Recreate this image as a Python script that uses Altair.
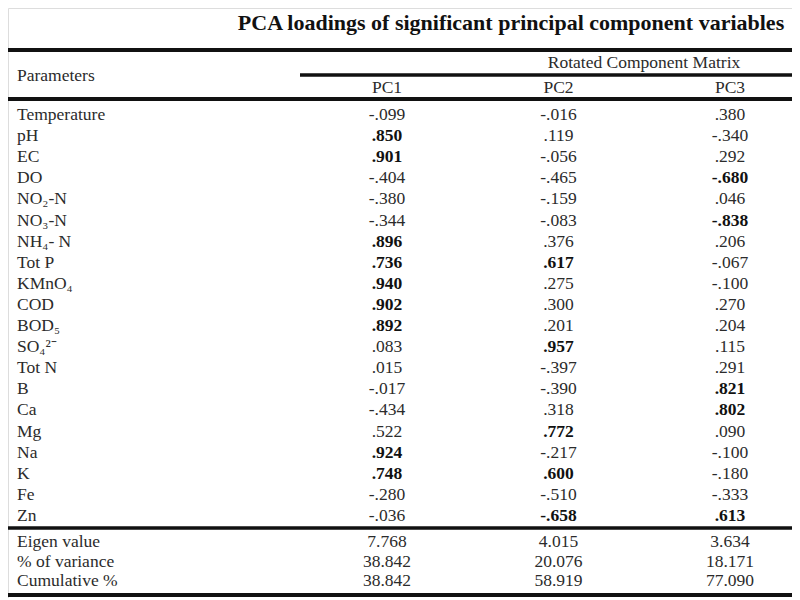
import altair as alt
import pandas as pd

title = "PCA loadings of significant principal component variables"
components = ["PC1", "PC2", "PC3"]
params = ["Temperature", "pH", "EC", "DO", "NO₂-N", "NO₃-N", "NH₄- N", "Tot P",
          "KMnO₄", "COD", "BOD₅", "SO₄²⁻", "Tot N", "B", "Ca", "Mg", "Na", "K",
          "Fe", "Zn"]
pc1 = [-0.099, 0.850, 0.901, -0.404, -0.380, -0.344, 0.896, 0.736, 0.940, 0.902,
       0.892, 0.083, 0.015, -0.017, -0.434, 0.522, 0.924, 0.748, -0.280, -0.036]
pc2 = [-0.016, 0.119, -0.056, -0.465, -0.159, -0.083, 0.376, 0.617, 0.275, 0.300,
       0.201, 0.957, -0.397, -0.390, 0.318, 0.772, -0.217, 0.600, -0.510, -0.658]
pc3 = [0.380, -0.340, 0.292, -0.680, 0.046, -0.838, 0.206, -0.067, -0.100, 0.270,
       0.204, 0.115, 0.291, 0.821, 0.802, 0.090, -0.100, -0.180, -0.333, 0.613]
summary_labels = ["Eigen value", "% of variance", "Cumulative %"]
eigen = [7.768, 4.015, 3.634]
variance = [38.842, 20.076, 18.171]
cumulative = [38.842, 58.919, 77.090]

FONT = "Liberation Serif"
FS = 17.5
TXT = "#2b2b2b"
LINE = "#111111"
W, H = 784, 590


def fmt_loading(v):
    s = f"{v:.3f}"
    if s.startswith("-0."):
        return "-" + s[2:]
    if s.startswith("0."):
        return s[1:]
    return s


rows = []
for c, series in enumerate([pc1, pc2, pc3], start=1):
    for r, v in enumerate(series):
        rows.append({"row": r, "col": c, "label": fmt_loading(v), "bold": abs(v) >= 0.6})
vals = pd.DataFrame(rows)
param_df = pd.DataFrame({"row": list(range(len(params))), "param": params})

srows = []
for sr, series in enumerate([eigen, variance, cumulative]):
    for c, v in enumerate(series, start=1):
        srows.append({"srow": sr, "col": c, "label": f"{v:.3f}"})
summ = pd.DataFrame(srows)
summ_lab = pd.DataFrame({"srow": [0, 1, 2], "label": summary_labels})
head_df = pd.DataFrame({"col": [1, 2, 3], "label": components})

xs = alt.Scale(domain=[1, 3], range=[379, 722])
ys = alt.Scale(domain=[0, 19], range=[107, 508], zero=False, nice=False)
ss = alt.Scale(domain=[0, 2], range=[534, 573], zero=False, nice=False)

normal_vals = alt.Chart(vals).transform_filter("!datum.bold").mark_text(
    font=FONT, fontSize=FS, color=TXT, align="center", baseline="middle"
).encode(x=alt.X("col:Q", scale=xs, axis=None),
         y=alt.Y("row:Q", scale=ys, axis=None), text="label:N")
bold_vals = alt.Chart(vals).transform_filter("datum.bold").mark_text(
    font=FONT, fontSize=FS, fontWeight="bold", color="#111", align="center", baseline="middle"
).encode(x=alt.X("col:Q", scale=xs, axis=None),
         y=alt.Y("row:Q", scale=ys, axis=None), text="label:N")
param_txt = alt.Chart(param_df).mark_text(
    font=FONT, fontSize=FS, color=TXT, align="left", baseline="middle"
).encode(x=alt.value(9), y=alt.Y("row:Q", scale=ys, axis=None), text="param:N")

summ_vals = alt.Chart(summ).mark_text(
    font=FONT, fontSize=FS, color=TXT, align="center", baseline="middle"
).encode(x=alt.X("col:Q", scale=xs, axis=None),
         y=alt.Y("srow:Q", scale=ss, axis=None), text="label:N")
summ_txt = alt.Chart(summ_lab).mark_text(
    font=FONT, fontSize=FS, color=TXT, align="left", baseline="middle"
).encode(x=alt.value(9), y=alt.Y("srow:Q", scale=ss, axis=None), text="label:N")

head_pc = alt.Chart(head_df).mark_text(
    font=FONT, fontSize=FS, color=TXT, align="center", baseline="middle"
).encode(x=alt.X("col:Q", scale=xs, axis=None), y=alt.value(80), text="label:N")
head_param = alt.Chart(pd.DataFrame({"t": ["Parameters"]})).mark_text(
    font=FONT, fontSize=FS, color=TXT, align="left", baseline="middle"
).encode(x=alt.value(9), y=alt.value(68), text="t:N")
head_rot = alt.Chart(pd.DataFrame({"t": ["Rotated Component Matrix"]})).mark_text(
    font=FONT, fontSize=FS, color=TXT, align="center", baseline="middle"
).encode(x=alt.value(636), y=alt.value(55), text="t:N")
title_txt = alt.Chart(pd.DataFrame({"t": [title]})).mark_text(
    font=FONT, fontSize=22, fontWeight="bold", color="#111", align="center",
    baseline="alphabetic"
).encode(x=alt.value(503), y=alt.value(22), text="t:N")


def hrule(y, x1, x2, sw):
    return alt.Chart(pd.DataFrame({"k": [0]})).mark_rule(
        color=LINE, strokeWidth=sw
    ).encode(x=alt.value(x1), x2=alt.value(x2), y=alt.value(y))


rules = [hrule(42, 0, W, 4), hrule(67, 292, W, 3.5), hrule(91, 0, W, 4),
         hrule(520, 0, W, 3.5), hrule(587, 0, W, 4)]

chart = alt.layer(
    title_txt, *rules, head_param, head_rot, head_pc,
    param_txt, normal_vals, bold_vals, summ_txt, summ_vals
).resolve_scale(y="independent").properties(
    width=W, height=H, padding=0, autosize=alt.AutoSizeParams(type="none")
).configure_view(stroke=None).configure(background="white")

chart.save("out.html", embed_options={"renderer": "svg", "actions": False})
